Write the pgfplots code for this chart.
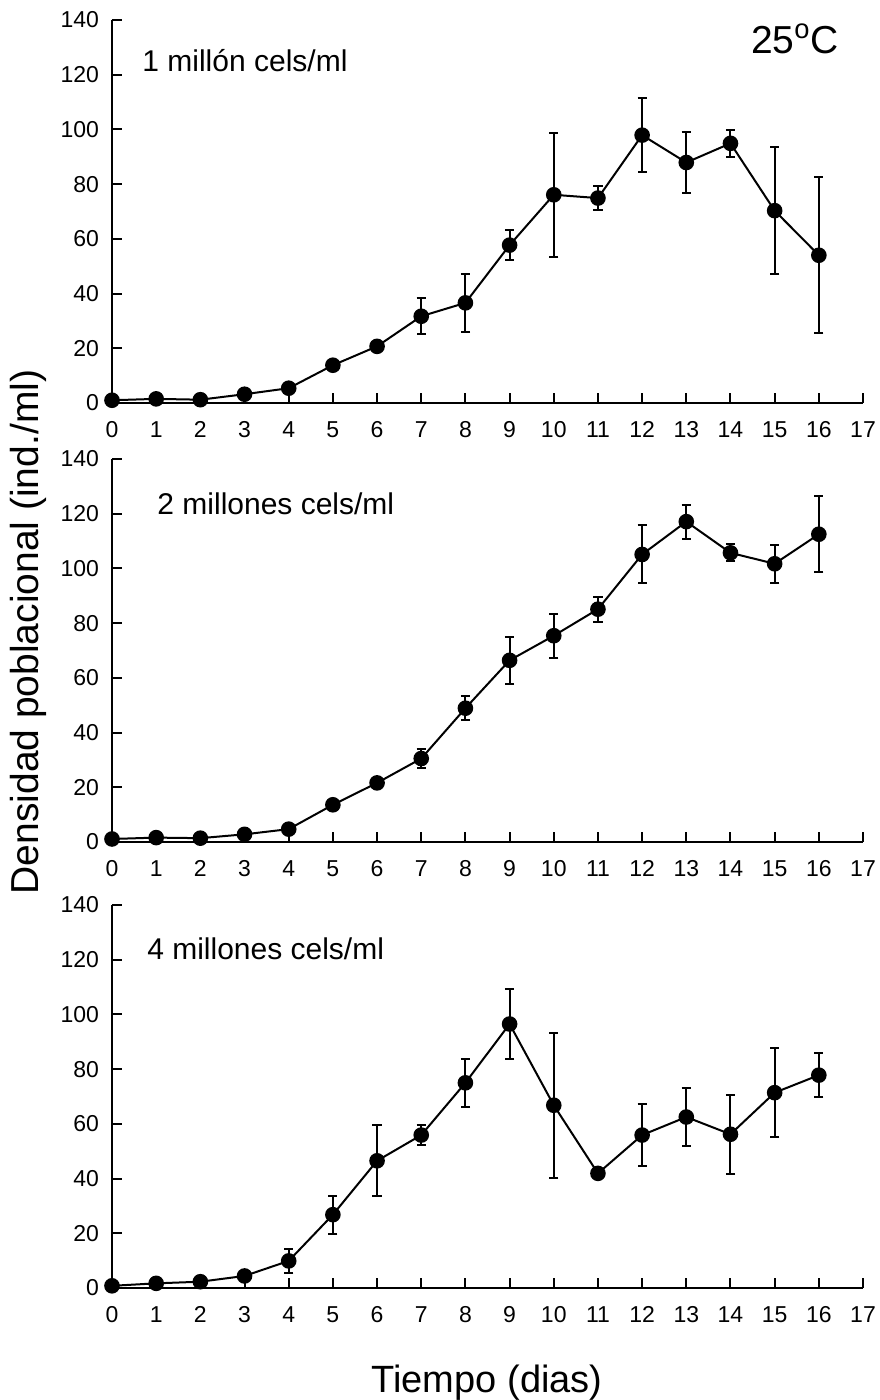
\documentclass[border=0pt]{standalone}
\usepackage{pgfplots}
\pgfplotsset{compat=1.18}
\usepackage{fontspec}
\setmainfont{Liberation Sans}

\pgfplotsset{
  panel/.style={
    width=375.5pt, height=191.5pt, scale only axis,
    xmin=0, xmax=17, ymin=0, ymax=140,
    enlargelimits=false, clip=false,
    axis x line*=bottom, axis y line*=left,
    axis line style={-, line width=1.1pt},
    xtick={0,1,...,17}, ytick={0,20,...,140},
    tick align=inside, major tick length=5pt,
    every tick/.style={black, line width=1pt},
    /pgf/number format/assume math mode=true,
    tick label style={font=\fontsize{11.5}{13}\selectfont},
    xticklabel shift=5.8pt, yticklabel shift=3pt,
  },
  serie/.style={
    black, line width=1pt, mark=*, mark size=3.4pt,
    mark options={solid, fill=black},
    error bars/.cd, y dir=both, y explicit,
    error bar style={line width=1pt},
    error mark options={rotate=90, mark size=2.3pt, line width=1pt},
  },
}
\tikzset{panellabel/.style={anchor=west, inner sep=0pt, font=\fontsize{15}{18}\selectfont}}

\begin{document}
\begin{tikzpicture}
% 1 millon de celulas por ml
\begin{axis}[panel, at={(0pt,442.5pt)}, anchor=south west]
\addplot+[serie] coordinates {
  (0,1.0) +- (0,0)
  (1,1.5) +- (0,0)
  (2,1.2) +- (0,0)
  (3,3.2) +- (0,0.8)
  (4,5.4) +- (0,1.5)
  (5,13.8) +- (0,1.5)
  (6,20.7) +- (0,1)
  (7,31.7) +- (0,6.5)
  (8,36.6) +- (0,10.7)
  (9,57.7) +- (0,5.5)
  (10,76.1) +- (0,22.6)
  (11,74.9) +- (0,4.5)
  (12,97.9) +- (0,13.5)
  (13,87.9) +- (0,11.3)
  (14,94.9) +- (0,5)
  (15,70.3) +- (0,23.3)
  (16,54.0) +- (0,28.6)
};
\node[panellabel] at (axis cs:0.68,125) {1 millón cels/ml};
\node[font=\fontsize{19.5}{22}\selectfont] at (axis cs:15.46,133) {25\textsuperscript{o}C};
\end{axis}

% 2 millones de celulas por ml
\begin{axis}[panel, at={(0pt,223pt)}, anchor=south west]
\addplot+[serie] coordinates {
  (0,1.1) +- (0,0)
  (1,1.6) +- (0,0)
  (2,1.4) +- (0,0)
  (3,2.8) +- (0,1)
  (4,4.7) +- (0,1.5)
  (5,13.6) +- (0,1)
  (6,21.6) +- (0,1)
  (7,30.5) +- (0,3.4)
  (8,48.9) +- (0,4.4)
  (9,66.4) +- (0,8.5)
  (10,75.4) +- (0,8)
  (11,85.1) +- (0,4.6)
  (12,105.1) +- (0,10.6)
  (13,117.1) +- (0,6.2)
  (14,105.7) +- (0,3.1)
  (15,101.7) +- (0,7)
  (16,112.5) +- (0,13.8)
};
\node[panellabel] at (axis cs:1.02,123.5) {2 millones cels/ml};
\end{axis}

% 4 millones de celulas por ml
\begin{axis}[panel, at={(0pt,0pt)}, anchor=south west]
\addplot+[serie] coordinates {
  (0,0.8) +- (0,0)
  (1,1.7) +- (0,0)
  (2,2.3) +- (0,0)
  (3,4.4) +- (0,1.5)
  (4,9.9) +- (0,4.4)
  (5,26.8) +- (0,7)
  (6,46.5) +- (0,12.9)
  (7,55.9) +- (0,3.6)
  (8,75.0) +- (0,8.7)
  (9,96.5) +- (0,12.9)
  (10,66.8) +- (0,26.5)
  (11,41.9) +- (0,1.5)
  (12,55.9) +- (0,11.3)
  (13,62.5) +- (0,10.5)
  (14,56.2) +- (0,14.4)
  (15,71.4) +- (0,16.3)
  (16,77.8) +- (0,8)
};
\node[panellabel] at (axis cs:0.79,124.1) {4 millones cels/ml};
\end{axis}

% etiquetas comunes de los ejes
\node[rotate=90, font=\fontsize{19.5}{22}\selectfont] at (-42pt,328pt) {Densidad poblacional (ind./ml)};
\node[anchor=base, font=\fontsize{19}{22}\selectfont] at (187.5pt,-52pt) {Tiempo (dias)};

\pgfresetboundingbox
\useasboundingbox (-56pt,-56pt) rectangle (383.5pt,644pt);
\end{tikzpicture}
\end{document}
